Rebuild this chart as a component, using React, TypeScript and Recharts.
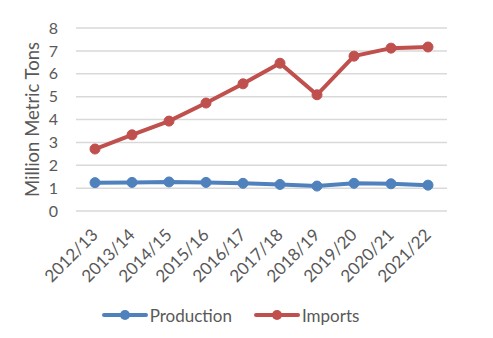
import React from "react";
import { LineChart, Line, XAxis, YAxis, CartesianGrid, Legend, Label } from "recharts";

const categories = ["2012/13", "2013/14", "2014/15", "2015/16", "2016/17", "2017/18", "2018/19", "2019/20", "2020/21", "2021/22"];
const production = [1.24, 1.25, 1.27, 1.25, 1.21, 1.16, 1.09, 1.21, 1.19, 1.13];
const imports = [2.71, 3.33, 3.93, 4.72, 5.56, 6.46, 5.08, 6.77, 7.12, 7.17];
const yTicks = [0, 1, 2, 3, 4, 5, 6, 7, 8];

const data = categories.map((c, i) => ({ name: c, Production: production[i], Imports: imports[i] }));

const FONT = "Lato, 'Open Sans', sans-serif";
const TEXT = "#595959";
const BLUE = "#4F81BD";
const RED = "#C0504D";

const XTick = (props: any) => {
  const { x, y, payload } = props;
  return (
    <g transform={`translate(${x + 4},${y + 17})`}>
      <text x={0} y={0} textAnchor="end" transform="rotate(-45)" fill={TEXT} fontSize={17} fontFamily={FONT}>
        {payload.value}
      </text>
    </g>
  );
};

const YLabel = (props: any) => {
  const vb = props.viewBox || {};
  const cx = vb.x + 32;
  const cy = vb.y + vb.height / 2;
  return (
    <text x={cx} y={cy} transform={`rotate(-90, ${cx}, ${cy})`} textAnchor="middle" dominantBaseline="central" fill={TEXT} fontSize={18.5} fontFamily={FONT}>
      Million Metric Tons
    </text>
  );
};

const LegendContent = () => {
  const items = [
    { name: "Production", color: BLUE },
    { name: "Imports", color: RED },
  ];
  return (
    <div style={{ display: "flex", justifyContent: "center", alignItems: "center", height: 30, fontFamily: FONT, fontSize: 17, color: TEXT, paddingLeft: 14 }}>
      {items.map((it, i) => (
        <div key={it.name} style={{ display: "flex", alignItems: "center", marginLeft: i === 0 ? 0 : 22 }}>
          <svg width={46} height={12}>
            <line x1={2} y1={6} x2={44} y2={6} stroke={it.color} strokeWidth={4} strokeLinecap="round" />
            <circle cx={23} cy={6} r={5} fill={it.color} />
          </svg>
          <span style={{ marginLeft: 2 }}>{it.name}</span>
        </div>
      ))}
    </div>
  );
};

export default function App() {
  return (
    <div style={{ position: "absolute", left: 0, top: 0, width: 493, height: 338, background: "#fff" }}>
      <LineChart width={493} height={338} data={data} margin={{ top: 28, right: 46, left: 0, bottom: 8 }}>
        <CartesianGrid vertical={false} stroke="#d9d9d9" strokeWidth={1.5} />
        <XAxis dataKey="name" axisLine={false} tickLine={false} interval={0} height={89} padding={{ left: 19, right: 19 }} tick={<XTick />} />
        <YAxis
          domain={[0, 8]}
          ticks={yTicks}
          interval={0}
          width={76}
          axisLine={false}
          tickLine={false}
          tickMargin={12}
          tick={{ fill: TEXT, fontSize: 16, fontFamily: FONT }}
        >
          <Label content={<YLabel />} />
        </YAxis>
        <Legend verticalAlign="bottom" height={30} content={<LegendContent />} />
        <Line dataKey="Production" stroke={BLUE} strokeWidth={4} dot={{ r: 5, fill: BLUE, stroke: BLUE, strokeWidth: 1 }} isAnimationActive={false} />
        <Line dataKey="Imports" stroke={RED} strokeWidth={4} dot={{ r: 5, fill: RED, stroke: RED, strokeWidth: 1 }} isAnimationActive={false} />
      </LineChart>
    </div>
  );
}
